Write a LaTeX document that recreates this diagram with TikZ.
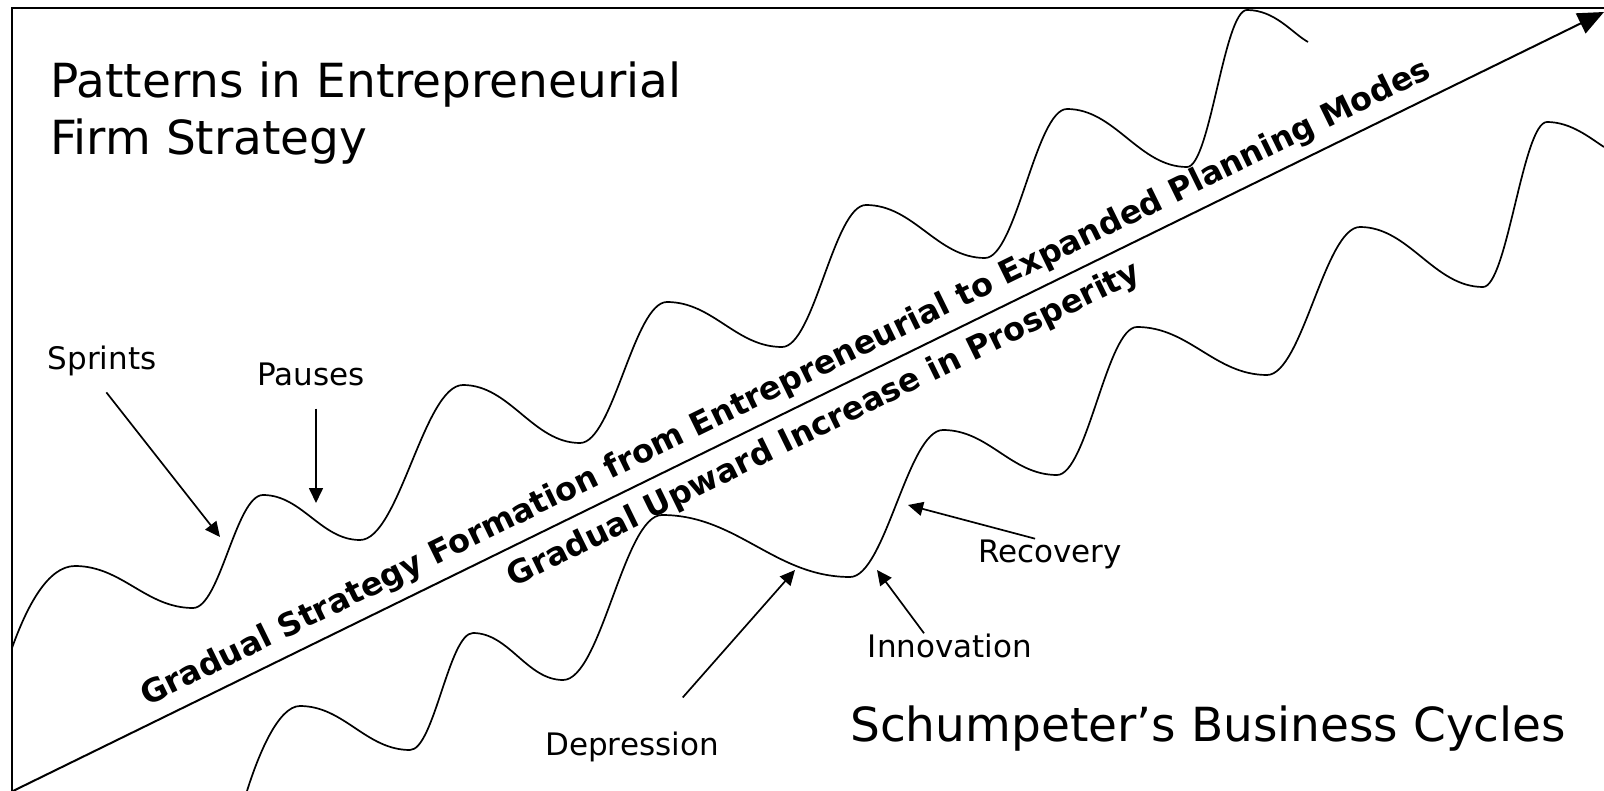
\documentclass[tikz,border=0pt]{standalone}
\usepackage{fontspec}
\setmainfont{DejaVu Sans}
\usetikzlibrary{arrows.meta}
\begin{document}
\begin{tikzpicture}[x=1pt,y=-1pt,
  frame/.style={line width=2.4pt, line cap=rect},
  wave/.style={line width=1.7pt, line join=round},
  ptr/.style={line width=1.7pt, -{Triangle[length=15pt,width=14pt]}},
  trend/.style={line width=2pt, -{Triangle[length=26pt,width=22pt]}},
  heading/.style={inner sep=0pt, anchor=base west, font=\fontsize{47}{57}\selectfont},
  tag/.style={inner sep=0pt, anchor=base, font=\fontsize{31}{37}\selectfont},
  slogan/.style={inner sep=0pt, sloped, anchor=base, font=\fontsize{32}{38}\selectfont\bfseries}
]
\useasboundingbox (0,0) rectangle (1604,791);
\fill[white] (0,0) rectangle (1604,791);

% frame: left and top edges only
\coordinate (fbl) at (12,791);
\coordinate (ftl) at (12,8);
\coordinate (ftr) at (1604,8);
\draw[frame] (fbl) -- (ftl) -- (ftr);

% upper wave: entrepreneurial firm strategy (sprints and pauses)
\draw[wave] (12,648) .. controls (27,606) and (48,566) .. (75,566)
 .. controls +(47,0) and +(-47,0) .. (193,608)
 .. controls +(27,0) and +(-27,0) .. (263,495)
 .. controls +(39,0) and +(-39,0) .. (360,540)
 .. controls +(39,0) and +(-39,0) .. (463,385)
 .. controls +(47,0) and +(-47,0) .. (580,443)
 .. controls +(33,0) and +(-33,0) .. (667,302)
 .. controls +(46,0) and +(-46,0) .. (782,347)
 .. controls +(32,0) and +(-32,0) .. (866,205)
 .. controls +(48,0) and +(-48,0) .. (985,258)
 .. controls +(31,0) and +(-31,0) .. (1067,109)
 .. controls +(48,0) and +(-48,0) .. (1187,167)
 .. controls +(23,0) and +(-23,0) .. (1247,10)
 .. controls +(28,0) and +(-16,-9) .. (1308,42);

% lower wave: business cycles
\draw[wave] (247,791) .. controls (258,756) and (278,706) .. (300,706)
 .. controls +(44,0) and +(-44,0) .. (410,750)
 .. controls +(24,0) and +(-24,0) .. (473,633)
 .. controls +(36,0) and +(-36,0) .. (563,680)
 .. controls +(38,0) and +(-38,0) .. (662,515)
 .. controls +(75,0) and +(-75,0) .. (850,577)
 .. controls +(35,0) and +(-35,0) .. (943,430)
 .. controls +(46,0) and +(-46,0) .. (1057,475)
 .. controls +(30,0) and +(-30,0) .. (1137,327)
 .. controls +(52,0) and +(-52,0) .. (1267,375)
 .. controls +(35,0) and +(-35,0) .. (1360,227)
 .. controls +(49,0) and +(-49,0) .. (1483,287)
 .. controls +(24,0) and +(-24,0) .. (1547,122)
 .. controls +(24,0) and +(-14,-9) .. (1604,147);

% rising trend line with its two captions
\coordinate (origin) at (13,791);
\coordinate (apex) at (1604,12);
\draw[trend] (origin) -- (apex)
  node[slogan, pos=0.493, yshift=17pt] (formation) {Gradual Strategy Formation from Entrepreneurial to Expanded Planning Modes}
  node[slogan, pos=0.502, yshift=-37pt] (prosperity) {Gradual Upward Increase in Prosperity};

% headings
\node[heading] (titleA) at (50,98) {Patterns in Entrepreneurial};
\node[heading] (titleB) at (50,155) {Firm Strategy};
\node[heading] (cycles) at (850,741) {Schumpeter’s Business Cycles};

% phase labels
\node[tag] (sprints) at (102,370) {Sprints};
\node[tag] (pauses) at (311,386) {Pauses};
\node[tag] (recovery) at (1050,562) {Recovery};
\node[tag] (innovation) at (950,657) {Innovation};
\node[tag] (depression) at (632,755) {Depression};

% points on the waves
\coordinate (sprintsTip) at (220,537);
\coordinate (pausesTip) at (316,503);
\coordinate (recoveryTip) at (908,505);
\coordinate (innovationTip) at (877,570);
\coordinate (depressionTip) at (795,570);

\draw[ptr, shorten <=20pt] ([xshift=-8pt]sprints.south) -- (sprintsTip);
\draw[ptr, shorten <=22pt] ([xshift=5pt]pauses.south) -- (pausesTip);
\draw[ptr, shorten <=2pt] ([xshift=-13pt]recovery.north) -- (recoveryTip);
\draw[ptr] ([xshift=-26pt]innovation.north) -- (innovationTip);
\draw[ptr, shorten <=45pt] ([xshift=21pt]depression.north) -- (depressionTip);
\end{tikzpicture}
\end{document}
